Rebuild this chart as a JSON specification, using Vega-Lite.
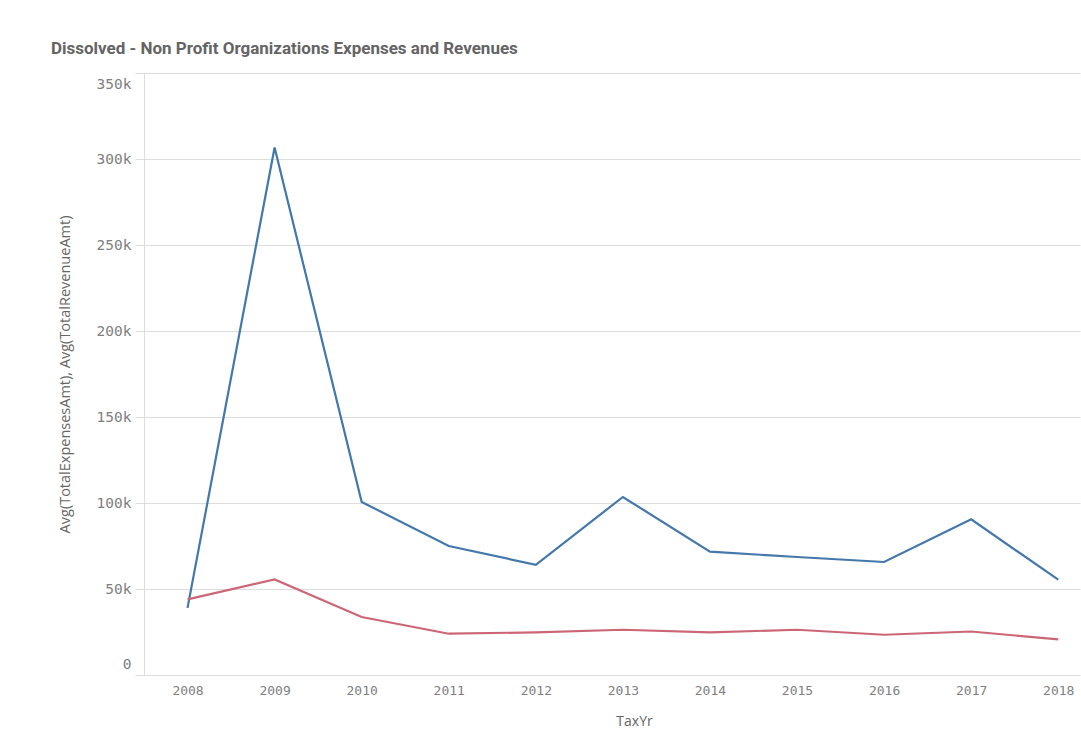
{
  "$schema": "https://vega.github.io/schema/vega-lite/v6.json",
  "autosize": {"type": "none"},
  "width": 936,
  "height": 602,
  "padding": {"left": 144, "top": 73, "right": 1, "bottom": 63},
  "background": "#ffffff",
  "title": {
    "text": "Dissolved - Non Profit Organizations Expenses and Revenues",
    "anchor": "start",
    "frame": "group",
    "dx": -93,
    "offset": -2,
    "baseline": "bottom",
    "font": "Roboto",
    "fontSize": 17,
    "fontWeight": "bold",
    "color": "#646464"
  },
  "data": {
    "values": [
      {"TaxYr": 2008, "measure": "Avg(TotalExpensesAmt)", "value": 39000},
      {"TaxYr": 2009, "measure": "Avg(TotalExpensesAmt)", "value": 306700},
      {"TaxYr": 2010, "measure": "Avg(TotalExpensesAmt)", "value": 100600},
      {"TaxYr": 2011, "measure": "Avg(TotalExpensesAmt)", "value": 75000},
      {"TaxYr": 2012, "measure": "Avg(TotalExpensesAmt)", "value": 64100},
      {"TaxYr": 2013, "measure": "Avg(TotalExpensesAmt)", "value": 103500},
      {"TaxYr": 2014, "measure": "Avg(TotalExpensesAmt)", "value": 71700},
      {"TaxYr": 2015, "measure": "Avg(TotalExpensesAmt)", "value": 68600},
      {"TaxYr": 2016, "measure": "Avg(TotalExpensesAmt)", "value": 65700},
      {"TaxYr": 2017, "measure": "Avg(TotalExpensesAmt)", "value": 90500},
      {"TaxYr": 2018, "measure": "Avg(TotalExpensesAmt)", "value": 55400},
      {"TaxYr": 2008, "measure": "Avg(TotalRevenueAmt)", "value": 44000},
      {"TaxYr": 2009, "measure": "Avg(TotalRevenueAmt)", "value": 55600},
      {"TaxYr": 2010, "measure": "Avg(TotalRevenueAmt)", "value": 33700},
      {"TaxYr": 2011, "measure": "Avg(TotalRevenueAmt)", "value": 24000},
      {"TaxYr": 2012, "measure": "Avg(TotalRevenueAmt)", "value": 24800},
      {"TaxYr": 2013, "measure": "Avg(TotalRevenueAmt)", "value": 26300},
      {"TaxYr": 2014, "measure": "Avg(TotalRevenueAmt)", "value": 24800},
      {"TaxYr": 2015, "measure": "Avg(TotalRevenueAmt)", "value": 26300},
      {"TaxYr": 2016, "measure": "Avg(TotalRevenueAmt)", "value": 23400},
      {"TaxYr": 2017, "measure": "Avg(TotalRevenueAmt)", "value": 25300},
      {"TaxYr": 2018, "measure": "Avg(TotalRevenueAmt)", "value": 20700}
    ]
  },
  "mark": {"type": "line", "strokeWidth": 2.2, "clip": true},
  "encoding": {
    "x": {
      "field": "TaxYr",
      "type": "quantitative",
      "scale": {"domain": [2007.5, 2018.25], "nice": false, "zero": false},
      "axis": {
        "title": "TaxYr",
        "values": [2008, 2009, 2010, 2011, 2012, 2013, 2014, 2015, 2016, 2017, 2018],
        "format": "d",
        "grid": false,
        "ticks": false,
        "domain": false,
        "labelFont": "DejaVu Sans Mono",
        "labelFontSize": 13,
        "labelColor": "#808080",
        "labelPadding": 9,
        "titleFont": "Open Sans",
        "titleFontSize": 14,
        "titleFontWeight": "normal",
        "titleColor": "#666666",
        "titlePadding": 17,
        "titleX": 490
      }
    },
    "y": {
      "field": "value",
      "type": "quantitative",
      "scale": {"domain": [0, 350000], "nice": false},
      "axis": {
        "title": "Avg(TotalExpensesAmt), Avg(TotalRevenueAmt)",
        "values": [0, 50000, 100000, 150000, 200000, 250000, 300000, 350000],
        "labelExpr": "datum.value === 0 ? '0' : format(datum.value / 1000, 'd') + 'k'",
        "labelFlush": true,
        "labelFlushOffset": -4,
        "grid": true,
        "gridColor": "#dddddd",
        "gridWidth": 1,
        "domain": true,
        "domainColor": "#dddddd",
        "ticks": true,
        "tickSize": 9,
        "tickColor": "#dddddd",
        "labelFont": "DejaVu Sans Mono",
        "labelFontSize": 14.5,
        "labelColor": "#808080",
        "labelPadding": 4,
        "titleFont": "Open Sans",
        "titleFontSize": 14.5,
        "titleFontWeight": "normal",
        "titleColor": "#666666",
        "titlePadding": 24
      }
    },
    "color": {
      "field": "measure",
      "type": "nominal",
      "scale": {
        "domain": ["Avg(TotalExpensesAmt)", "Avg(TotalRevenueAmt)"],
        "range": ["#4477aa", "#cc6677"]
      },
      "legend": null
    }
  },
  "config": {
    "view": {"stroke": null}
  }
}
